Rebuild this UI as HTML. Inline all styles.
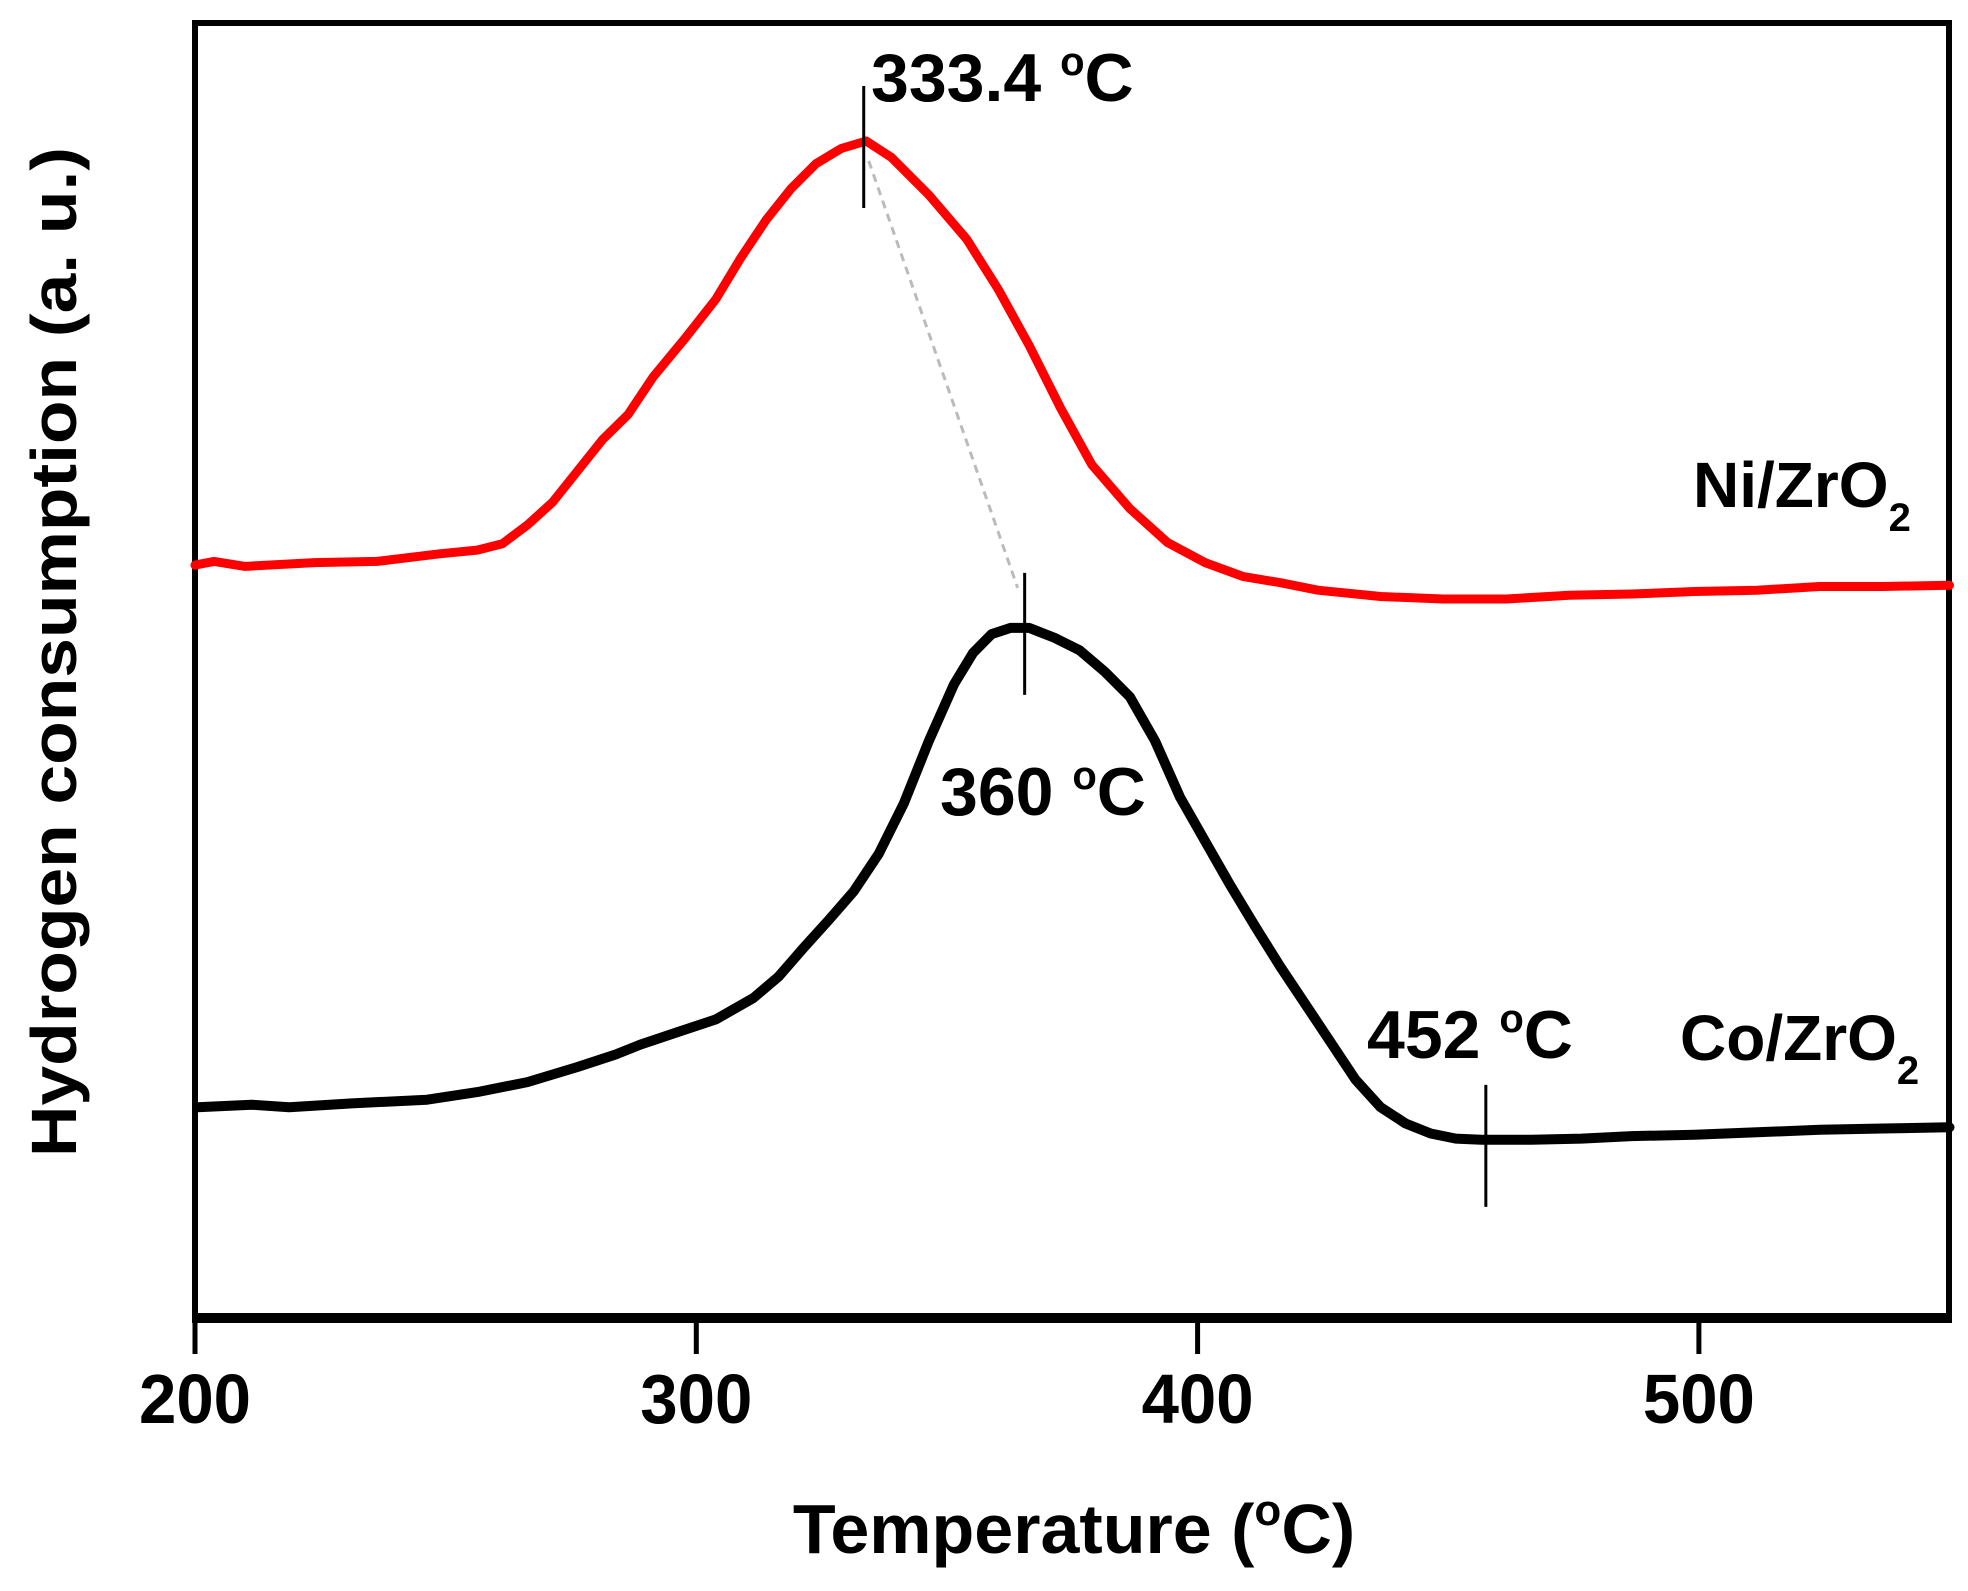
<!DOCTYPE html>
<html><head><meta charset="utf-8"><style>
html,body{margin:0;padding:0;background:#fff;}
svg text{font-family:"Liberation Sans",Arial,sans-serif;font-weight:bold;fill:#000;}
</style></head><body>
<svg id="chart" width="1968" height="1586" viewBox="0 0 1968 1586" xmlns="http://www.w3.org/2000/svg">
<g id="plot"></g>
</svg>
<script>
const xTicks = [200, 300, 400, 500];
const niTemps = [200,203.8,210,223.8,236.3,248.8,256.3,261.3,266.3,271.3,276.3,281.3,286.4,291.4,297.6,303.9,308.9,313.9,318.9,323.9,328.9,333.9,338.9,346.4,353.9,360.2,366.4,372.7,378.9,386.5,394,401.5,409,416.5,424,436.5,449,461.6,474.1,486.6,499.1,511.6,524.1,536.7,550];
const niValues = [600,603,599,602,603,609,612,617,632,650,675,700,720,750,780,812,845,875,900,920,932,938,925,895,860,820,775,725,680,645,618,602,591,586,580,575,573,573,576,577,579,580,583,583,584];
const coTemps = [200.5,211.3,218.8,231.3,246.3,256.3,266.3,276.3,283.9,288.9,296.4,303.9,311.4,316.4,321.4,326.4,331.4,336.4,341.4,346.4,351.4,355.2,358.9,362.7,366.4,371.5,376.5,381.5,386.5,391.5,396.5,401.5,406.5,411.5,416.5,421.5,426.5,431.5,436.5,441.5,446.5,451.5,456.6,466.6,476.6,486.6,499.1,511.6,524.1,536.7,550];
const coValues = [168,170,168,171,174,180,188,200,210,218,228,238,255,272,295,317,340,370,410,460,505,530,545,550,550,542,532,515,495,460,415,380,345,312,280,250,220,190,168,155,147,143,142,142,143,145,146,148,150,151,152];
const peakTemps = [333.4, 365.5, 457.5];
const peakValues = [938, 550, 142];

const NS = "http://www.w3.org/2000/svg";
const g = document.getElementById('plot');
const X = t => 195 + (t - 200) * 5.013;
const Y = v => 1318 - v * 1.2548;
function mk(tag, attrs, parent){const e=document.createElementNS(NS,tag);for(const k in attrs)e.setAttribute(k,attrs[k]);(parent||g).appendChild(e);return e;}

let f = mk('rect',{x:195,y:23,width:1754,height:1295,fill:'none',stroke:'#000','stroke-width':6});


let xa = mk('line',{x1:192,x2:1952,y1:1318,y2:1318,stroke:'#000','stroke-width':10});



xTicks.forEach(t=>{
  const l = mk('line',{x1:X(t),x2:X(t),y1:1318,y2:1354,stroke:'#000','stroke-width':5});
  
  
  const tx = mk('text',{x:X(t),y:1423,'text-anchor':'middle','font-size':70,textLength:112,lengthAdjust:'spacingAndGlyphs'});
  tx.textContent = t;
  
  
});

function path(ts, vs, color, w, name){
  let d = ts.map((t,i)=>(i?'L':'M')+X(t).toFixed(1)+' '+Y(vs[i]).toFixed(1)).join(' ');
  const p = mk('path',{d:d,fill:'none',stroke:color,'stroke-width':w,'stroke-linejoin':'round','stroke-linecap':'round'});
  
  
}
let dl = mk('line',{x1:X(peakTemps[0])+5,y1:Y(peakValues[0])+20,x2:X(peakTemps[1])-7,y2:Y(peakValues[1])-40,stroke:'#bbb','stroke-width':3,'stroke-dasharray':'8,6'});



path(niTemps, niValues, '#ff0000', 9, 'ni-zro2-curve');
path(coTemps, coValues, '#000000', 10, 'co-zro2-curve');

peakTemps.forEach((t,i)=>{
  const y = Y(peakValues[i]);
  const l = mk('line',{x1:X(t),x2:X(t),y1:y-55,y2:y+67,stroke:'#000','stroke-width':3});
  
  
});

function label(x,y,html,size,name,extra){
  const t = mk('text',Object.assign({x:x,y:y,'font-size':size},extra||{}));
  t.innerHTML = html;
  
  
  return t;
}
const deg = '<tspan dy="-26" font-size="40">o</tspan><tspan dy="26">C</tspan>';
label(871,101,'333.4 '+deg,68,'peak-label-333');
label(940,815,'360 '+deg,68,'peak-label-360');
label(1367,1058,'452 '+deg,68,'peak-label-452');
label(1693,507,'Ni/ZrO<tspan dy="24" font-size="40">2</tspan>',64,'ni-zro2-label');
label(1680,1060,'Co/ZrO<tspan dy="24" font-size="40">2</tspan>',64,'co-zro2-label');
label(1074,1553,'Temperature ('+'<tspan dy="-28" font-size="44">o</tspan><tspan dy="28">C)</tspan>',70,'x-axis-title',{'text-anchor':'middle'});
label(0,0,'Hydrogen consumption (a. u.)',64,'y-axis-title',{'text-anchor':'middle',transform:'translate(76,652) rotate(-90)',textLength:1010,lengthAdjust:'spacingAndGlyphs'});
</script>
</body></html>
